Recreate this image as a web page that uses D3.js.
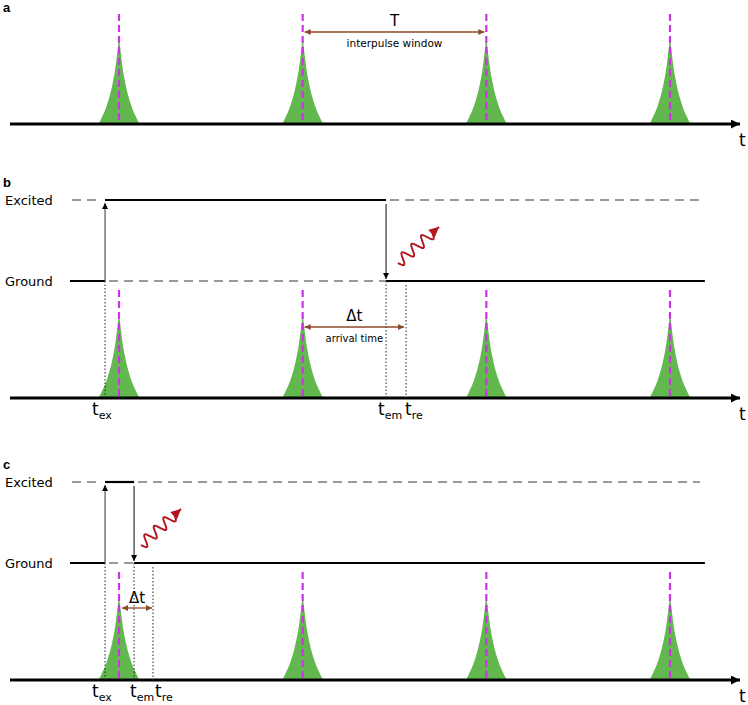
<!DOCTYPE html>
<html><head><meta charset="utf-8">
<script src="https://cdn.jsdelivr.net/npm/d3@7"></script>
<style>body{margin:0;background:#fff}svg{display:block;font-family:"DejaVu Sans",sans-serif}</style>
</head><body><svg id="c" width="748" height="705"></svg>
<script>
// ---- data ----
const pulseTimes = [0, 1, 2, 3];                 // pulse centres, in units of T
const pulseOffsets = [0, 0.005, 0.011, 0.022, 0.033, 0.044, 0.060, 0.076, 0.093, 0.104, 0.115]; // |t - pulse| in T
const pulseHeights = [1.0, 0.91, 0.80, 0.62, 0.49, 0.38, 0.26, 0.16, 0.08, 0.03, 0];          // relative intensity
const panelB = {tex: -0.076, tem: 1.454, tre: 1.563};
const panelC = {tex: -0.076, tem: 0.082, tre: 0.185};
const levelLabels = ["Excited", "Ground"];
const panelLetters = ["a", "b", "c"];

const svg = d3.select("#c");
const x = d3.scaleLinear().domain([0, 3]).range([119, 670]);
const green = "#62b84f", magenta = "#cc33e6", brown = "#8b4a26", red = "#b3161c", gray = "#9a9a9a";

const defs = svg.append("defs");
function marker(id, color, w, h) {
  defs.append("marker").attr("id", id).attr("viewBox", "0 0 10 10").attr("refX", 10).attr("refY", 5)
    .attr("markerWidth", w).attr("markerHeight", h).attr("markerUnits", "userSpaceOnUse").attr("orient", "auto-start-reverse")
    .append("path").attr("d", "M0,0L10,5L0,10z").attr("fill", color);
}
marker("axHead", "#000", 12, 9);
marker("thin", "#000", 6, 8);
marker("brown", brown, 8, 6);
marker("red", red, 11, 10);

const prof = [];
for (let i = pulseOffsets.length - 1; i >= 0; i--) prof.push([-pulseOffsets[i], pulseHeights[i]]);
for (let i = 1; i < pulseOffsets.length; i++) prof.push([pulseOffsets[i], pulseHeights[i]]);

function pulses(g, base, h, magTop) {
  const y = d3.scaleLinear().domain([0, 1]).range([base, base - h]);
  pulseTimes.forEach(p => {
    g.append("path").datum(prof)
      .attr("d", d3.area().x(d => x(p + d[0])).y0(base).y1(d => y(d[1])).curve(d3.curveMonotoneX))
      .attr("fill", green);
    g.append("line").attr("x1", x(p)).attr("x2", x(p)).attr("y1", magTop).attr("y2", base)
      .attr("stroke", magenta).attr("stroke-width", 2.2).attr("stroke-dasharray", "7,4");
  });
  g.append("line").attr("x1", 10).attr("x2", 740).attr("y1", base).attr("y2", base)
    .attr("stroke", "#000").attr("stroke-width", 3).attr("marker-end", "url(#axHead)");
  g.append("text").attr("x", 739).attr("y", base + 22).attr("font-size", 17).text("t");
}

function letter(t, yy) {
  svg.append("text").attr("x", 3).attr("y", yy).attr("font-size", 13).attr("font-weight", "bold")
    .attr("font-family", "Liberation Sans, Arial, sans-serif").text(t);
}

function tlabel(g, xx, yy, sub) {
  const t = g.append("text").attr("x", xx).attr("y", yy).attr("font-size", 17);
  t.append("tspan").text("t");
  t.append("tspan").attr("font-size", 11).attr("dy", 4).text(sub);
}

function wavy(g, x0, y0, x1, y1) {
  const dx = x1 - x0, dy = y1 - y0, L = Math.hypot(dx, dy);
  const ux = dx / L, uy = dy / L, nx = -uy, ny = ux;
  const pts = [];
  const waveL = L - 9;
  for (let i = 0; i <= 100; i++) {
    const s = i / 100 * waveL;
    const a = 5.5 * Math.sin(s / waveL * 3.5 * 2 * Math.PI);
    pts.push([x0 + ux * s + nx * a, y0 + uy * s + ny * a]);
  }
  pts.push([x1, y1]);
  g.append("path").attr("d", d3.line().curve(d3.curveBasis)(pts)).attr("fill", "none")
    .attr("stroke", red).attr("stroke-width", 1.9).attr("marker-end", "url(#red)");
}

function levels(g, exY, grY, ev, base) {
  const ex0 = x(-0.256), ex1 = x(3.163), gr0 = x(-0.267), gr1 = x(3.19);
  const a = x(ev.tex), b = x(ev.tem);
  g.append("text").attr("x", 5).attr("y", exY + 5).attr("font-size", 13).text(levelLabels[0]);
  g.append("text").attr("x", 5).attr("y", grY + 5).attr("font-size", 13).text(levelLabels[1]);
  const dash = (x1, x2, y) => g.append("line").attr("x1", x1).attr("x2", x2).attr("y1", y).attr("y2", y)
    .attr("stroke", gray).attr("stroke-width", 1.8).attr("stroke-dasharray", "9,6");
  const solid = (x1, x2, y) => g.append("line").attr("x1", x1).attr("x2", x2).attr("y1", y).attr("y2", y)
    .attr("stroke", "#000").attr("stroke-width", 2.2);
  dash(ex0, a - 3, exY); solid(a, b, exY); dash(b + 4, ex1, exY);
  solid(gr0, a, grY); dash(a + 4, b, grY); solid(b, gr1, grY);
  g.append("line").attr("x1", a).attr("x2", a).attr("y1", grY).attr("y2", exY + 3)
    .attr("stroke", "#444").attr("stroke-width", 1.1).attr("marker-end", "url(#thin)");
  g.append("line").attr("x1", b).attr("x2", b).attr("y1", exY + 4).attr("y2", grY - 2)
    .attr("stroke", "#222").attr("stroke-width", 1.1).attr("marker-end", "url(#thin)");
  [[ev.tex, grY], [ev.tem, grY], [ev.tre, grY + 4]].forEach(d => {
    g.append("line").attr("x1", x(d[0])).attr("x2", x(d[0])).attr("y1", d[1]).attr("y2", base)
      .attr("stroke", "#222").attr("stroke-width", 1).attr("stroke-dasharray", "1.5,2");
  });
}

function dtArrow(g, x1, x2, yy) {
  g.append("line").attr("x1", x1).attr("x2", x2).attr("y1", yy).attr("y2", yy)
    .attr("stroke", brown).attr("stroke-width", 1.3)
    .attr("marker-start", "url(#brown)").attr("marker-end", "url(#brown)");
}

// Panel a
letter(panelLetters[0], 12);
const ga = svg.append("g");
pulses(ga, 124, 86, 14);
dtArrow(ga, x(1) + 2, x(2) - 2, 32);
ga.append("text").attr("x", (x(1) + x(2)) / 2).attr("y", 26).attr("text-anchor", "middle").attr("font-size", 15).text("T");
ga.append("text").attr("x", (x(1) + x(2)) / 2).attr("y", 47).attr("text-anchor", "middle").attr("font-size", 10.5).text("interpulse window");

// Panel b
letter(panelLetters[1], 187);
const gb = svg.append("g");
pulses(gb, 398, 84, 290);
levels(gb, 200, 281, panelB, 398);
wavy(gb, 398, 263, 439, 227);
dtArrow(gb, x(1) + 2, x(panelB.tre) - 2, 327);
gb.append("text").attr("x", (x(1) + x(panelB.tre)) / 2).attr("y", 321).attr("text-anchor", "middle").attr("font-size", 15).text("Δt");
gb.append("text").attr("x", (x(1) + x(panelB.tre)) / 2).attr("y", 342).attr("text-anchor", "middle").attr("font-size", 10).text("arrival time");
tlabel(gb, x(panelB.tex) - 13, 415, "ex");
tlabel(gb, x(panelB.tem) - 8, 415, "em");
tlabel(gb, x(panelB.tre) - 1, 415, "re");

// Panel c
letter(panelLetters[2], 469);
const gc = svg.append("g");
pulses(gc, 680, 84, 572);
levels(gc, 482, 563, panelC, 680);
wavy(gc, 141, 545, 181, 509);
dtArrow(gc, x(0) + 3, x(panelC.tre) - 1, 608);
gc.append("text").attr("x", (x(0) + x(panelC.tre)) / 2 + 1).attr("y", 603).attr("text-anchor", "middle").attr("font-size", 15).text("Δt");
tlabel(gc, x(panelC.tex) - 13, 697, "ex");
tlabel(gc, x(panelC.tem) - 4, 697, "em");
tlabel(gc, x(panelC.tre) + 2, 697, "re");
</script></body></html>
